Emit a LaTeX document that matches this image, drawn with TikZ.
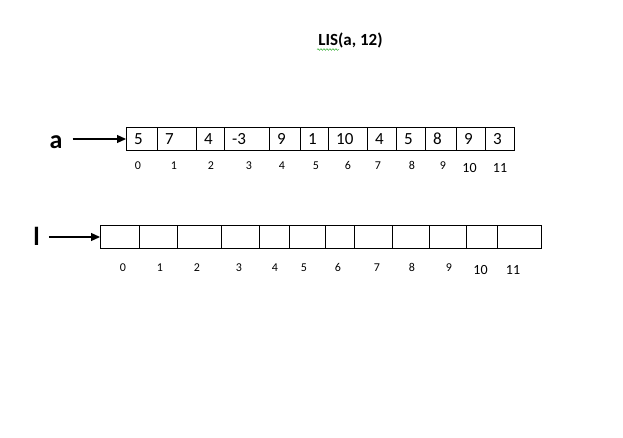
\documentclass[tikz,border=0pt]{standalone}
\usepackage{fontspec}
\setmainfont{Carlito}
\usetikzlibrary{positioning,arrows.meta,decorations.pathmorphing}

\begin{document}
\begin{tikzpicture}[x=1pt,y=-1pt,>={Triangle[length=9pt,width=8pt]},
		cell/.style={draw,line width=1pt,minimum height=23pt,inner sep=0pt,outer sep=0pt,anchor=west},
		val/.style={inner sep=0pt,anchor=west,font=\fontsize{17}{20}\selectfont},
		idx/.style={inner sep=0pt,anchor=base,font=\fontsize{12}{14}\selectfont},
		bigidx/.style={inner sep=0pt,anchor=base,font=\fontsize{14}{16}\selectfont},
		arrname/.style={inner sep=0pt,inner xsep=10pt,anchor=base,font=\bfseries\fontsize{26}{30}\selectfont},
		pointer/.style={->,line width=1.2pt}]
		\useasboundingbox (0,0) rectangle (623,438);
		% title
		\node[anchor=base,font=\bfseries\fontsize{17}{20}\selectfont] (title) at (350.5,45.7) {LIS(a, 12)};
		\draw[green!60!black,decorate,decoration={snake,amplitude=0.8pt,segment length=3pt}] (317,49.5) -- (339,49.5);
		% array a
		\node[arrname] (la) at (56,149) {a};
		\foreach \x/\w/\v [count=\i from 0] in {126/31/5,157/39/7,196/28/4,224/45/-3,269/31/9,300/28/1,328/39/10,367/29/4,396/29/5,425/31/8,456/29/9,485/29/3}
		{
			\node[cell,minimum width=\w pt] (a\i) at (\x,139) {};
			\node[val,right=8pt of a\i.west] (av\i) {\v};
		}
		\foreach \x/\n in {138/0,174/1,211/2,249/3,282/4,316/5,348/6,378/7,412/8,443/9}
			\node[idx] (ai\n) at (\x,170) {\n};
		\node[bigidx] (ai10) at (469.5,172.7) {10};
		\node[bigidx] (ai11) at (500,172.7) {11};
		\draw[pointer] (la.east |- a0.west) -- (a0.west);
		% array l
		\node[arrname,inner xsep=9pt] (ll) at (36.5,245) {l};
		\foreach \x/\w [count=\i from 0] in {100/39,139/38,177/44,221/38,259/30,289/36,325/29,354/38,392/37,429/37,466/31,497/44}
			\node[cell,minimum width=\w pt] (l\i) at (\x,237) {};
		\foreach \x/\n in {123/0,160/1,197/2,239/3,275/4,304/5,338/6,377/7,412/8,449/9}
			\node[idx] (li\n) at (\x,271.7) {\n};
		\node[bigidx] (li10) at (480.5,274) {10};
		\node[bigidx] (li11) at (513,274) {11};
		\draw[pointer] (ll.east |- l0.west) -- (l0.west);
\end{tikzpicture}
\end{document}
